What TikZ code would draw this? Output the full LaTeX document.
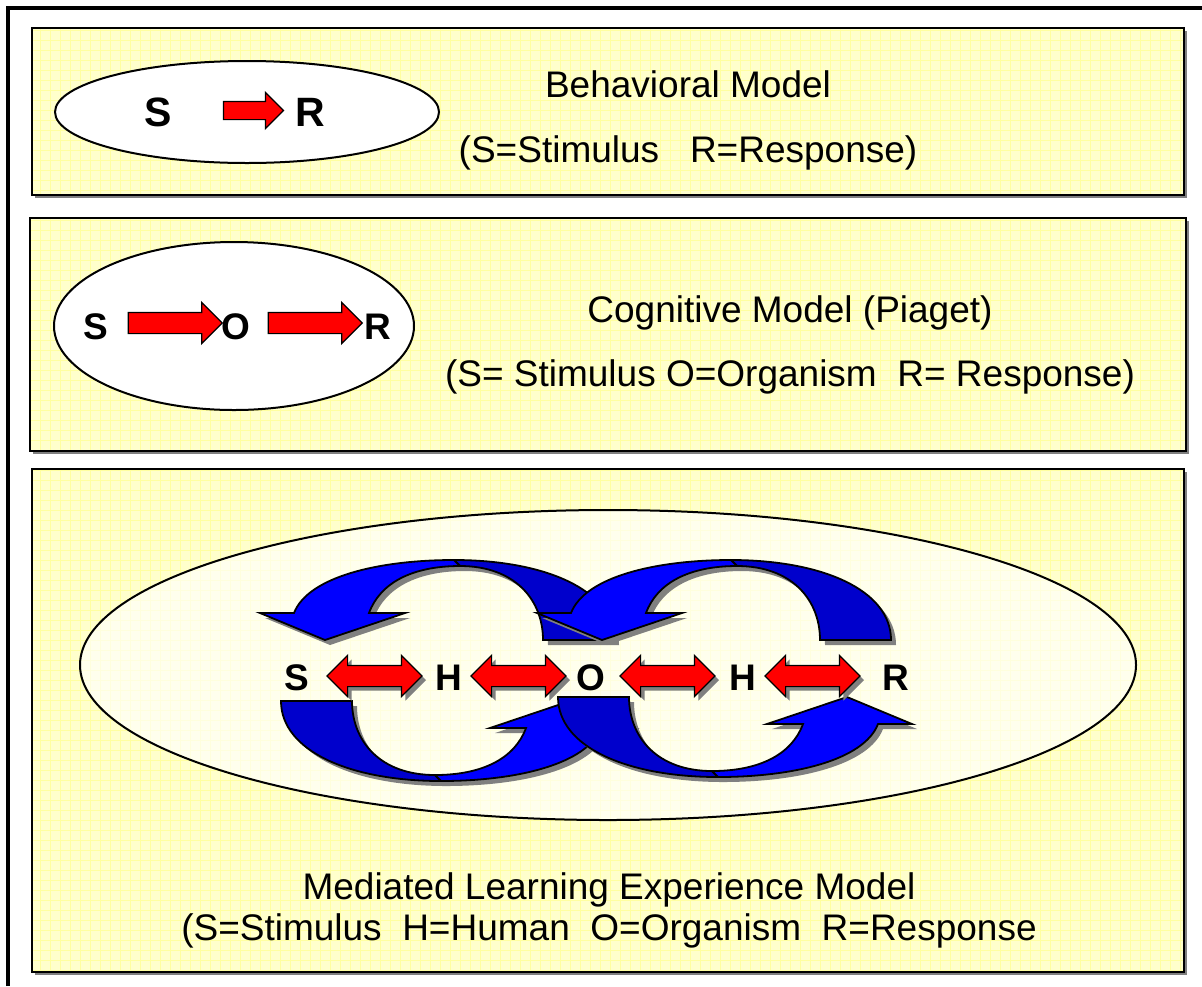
\documentclass[tikz,border=0pt]{standalone}
\usepackage{fontspec}
\setmainfont{Liberation Sans}
\usetikzlibrary{shapes.arrows,shadows}

\definecolor{panelyellow}{RGB}{255,255,204}
\definecolor{gridyellow}{RGB}{255,255,160}
\definecolor{arcblue}{RGB}{0,0,255}
\definecolor{arcdark}{RGB}{0,0,204}
\definecolor{shadegray}{RGB}{128,128,128}

% back half and front half of one curved arrow (the top left one)
\newcommand{\arcback}{(454,560) .. controls (545,560) and (614,590) .. (614,640)
  -- (543,640) .. controls (543,600) and (515,566) .. (460,566) -- cycle}
\newcommand{\arcfront}{(294,613) .. controls (308,577) and (378,560) .. (454,560)
  -- (460,566) .. controls (412,566) and (380,583) .. (369,613)
  -- (405,613) -- (325,640) -- (260,613) -- cycle}

\tikzset{
  panelshadow/.style={fill=shadegray},
  gridline/.style={draw=gridyellow, line width=0.5pt},
  modeltext/.style={font=\fontsize{18.5}{22}\selectfont, anchor=base},
  bigletter/.style={font=\fontsize{18.5}{22}\selectfont\bfseries, anchor=base},
  oval/.style={draw=black, line width=1pt, fill=white},
  redarrow/.style={single arrow, draw=black, fill=red, line width=0.6pt,
    inner xsep=0pt, inner ysep=5pt, minimum width=0pt, single arrow head extend=5pt},
  twoway/.style={double arrow, draw=black, fill=red, line width=0.6pt,
    inner xsep=0pt, inner ysep=5pt, minimum width=0pt, double arrow head extend=5pt,
    minimum height=47.5pt,
    drop shadow={shadow xshift=2pt, shadow yshift=-2pt, fill=shadegray, opacity=1}},
  pics/bluearc/.style={code={
    \fill[shadegray, shift={(#1)}] \arcback \arcfront;
    \filldraw[fill=arcdark, draw=black, line width=0.9pt] \arcback;
    \filldraw[fill=arcblue, draw=black, line width=0.9pt] \arcfront;
  }}
}

\begin{document}
\begin{tikzpicture}[x=0.5pt, y=-0.5pt]
  \useasboundingbox (0,0) rectangle (1202,986);
  % outer frame
  \draw[line width=2pt] (8,986) -- (8,8) -- (1202,8);

  % three panels with the small grid
  \foreach \l/\t/\r/\b in {32/28/1184/195, 30/218/1186/451, 32/469/1184/972} {
    \fill[panelshadow] (\l+3,\t+3) rectangle (\r+3,\b+3);
    \fill[panelyellow] (\l,\t) rectangle (\r,\b);
    \begin{scope}
      \clip (\l,\t) rectangle (\r,\b);
      \draw[gridline, step=5pt] (0,986) grid (1202,0);
    \end{scope}
    \draw[line width=1.2pt] (\l,\t) rectangle (\r,\b);
  }

  % behavioral model
  \draw[oval] (247,112) ellipse [x radius=96pt, y radius=25.5pt];
  \node[bigletter, font=\fontsize{20.5}{24}\selectfont\bfseries] (s1) at (158,126) {S};
  \node[bigletter, font=\fontsize{20.5}{24}\selectfont\bfseries] (r1) at (310,126) {R};
  \node[redarrow, minimum height=30pt, inner ysep=4.25pt, single arrow head extend=4.5pt] (a1) at (249,110.5) {};
  \node[modeltext] (t1) at (688,97) {Behavioral Model};
  \node[modeltext] (k1) at (688,162) {(S=Stimulus~~~R=Response)};

  % cognitive model
  \draw[oval] (234,326) ellipse [x radius=90pt, y radius=42pt];
  \node[bigletter] (s2) at (96,339) {S};
  \node[bigletter] (o2) at (236,339) {O};
  \node[bigletter] (r2) at (378,339) {R};
  \node[redarrow, minimum height=47pt] (a2) at (170,323) {};
  \node[redarrow, minimum height=47pt] (a3) at (310,323) {};
  \node[modeltext] (t2) at (790,322) {Cognitive Model (Piaget)};
  \node[modeltext] (k2) at (790,386) {(S= Stimulus O=Organism~~R= Response)};

  % mediated learning experience model
  \draw[oval, fill opacity=0.65] (608,665) ellipse [x radius=264pt, y radius=77.5pt];
  \pic at (0,0) {bluearc={5,5}};
  \pic at (277,0) {bluearc={5,5}};
  \pic[xscale=-1, yscale=-1] at (895,1341) {bluearc={-5,-5}};
  \pic[xscale=-1, yscale=-1] at (1172,1337) {bluearc={-5,-5}};
  \node[bigletter] (s3) at (297,690) {S};
  \node[bigletter] (h3) at (449,690) {H};
  \node[bigletter] (o3) at (591,690) {O};
  \node[bigletter] (h4) at (743,690) {H};
  \node[bigletter] (r3) at (896,690) {R};
  \node[twoway] (b1) at (374.5,676) {};
  \node[twoway] (b2) at (518.5,676) {};
  \node[twoway] (b3) at (667.5,676) {};
  \node[twoway] (b4) at (812.5,676) {};
  \node[modeltext] (t3) at (609,899) {Mediated Learning Experience Model};
  \node[modeltext] (k3) at (609,940) {(S=Stimulus~~H=Human~~O=Organism~~R=Response};
\end{tikzpicture}
\end{document}
